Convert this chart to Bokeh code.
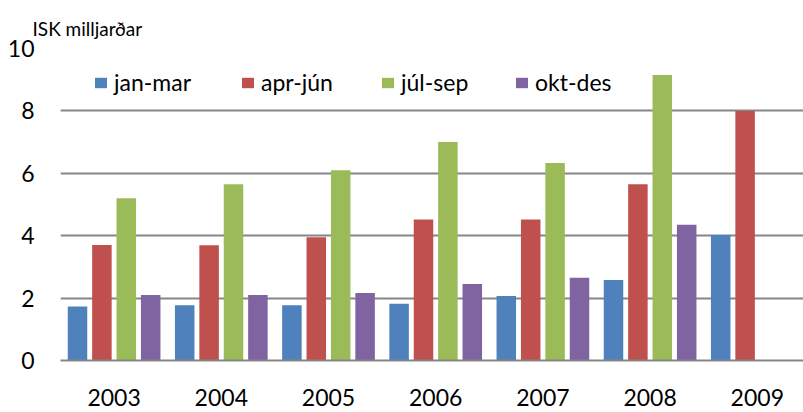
from bokeh.plotting import figure
from bokeh.models import Range1d, FixedTicker, ColumnDataSource, Legend, LegendItem
from bokeh.embed import file_html
from bokeh.resources import INLINE
import numpy as np

years = ["2003", "2004", "2005", "2006", "2007", "2008", "2009"]
series_names = ["jan-mar", "apr-jún", "júl-sep", "okt-des"]
jan_mar = [1.73, 1.77, 1.77, 1.82, 2.07, 2.58, 4.02]
apr_jun = [3.70, 3.69, 3.95, 4.52, 4.52, 5.65, 8.00]
jul_sep = [5.20, 5.65, 6.10, 7.00, 6.33, 9.15, None]
okt_des = [2.10, 2.10, 2.16, 2.45, 2.65, 4.35, None]
colors = ["#4F81BD", "#C0504D", "#9BBB59", "#8064A2"]
y_ticks = [0, 2, 4, 6, 8, 10]
unit_label = "ISK milljarðar"

FONT = "Lato"

p = figure(width=803, height=412, output_backend="svg", toolbar_location=None,
           x_range=Range1d(0, 743 / 107.2), y_range=Range1d(0, 10),
           min_border_left=60, min_border_right=0, min_border_top=48, min_border_bottom=52)
p.outline_line_color = None
p.background_fill_color = "white"
p.border_fill_color = "white"

p.title.text = unit_label
p.title.align = "left"
p.title.offset = -28
p.title.standoff = 17
p.title.text_font = FONT
p.title.text_font_size = "19px"
p.title.text_font_style = "normal"
p.title.text_color = "#000000"

pitch = 0.2276
bw = 0.182
offsets = [-1.5 * pitch, -0.5 * pitch, 0.5 * pitch, 1.5 * pitch]
legend_x = [33, 180, 320, 454]
idx = np.arange(len(years)) + 0.5
for name, vals, col, off, lx in zip(series_names, [jan_mar, apr_jun, jul_sep, okt_des],
                                    colors, offsets, legend_x):
    tops = np.array([np.nan if v is None else v for v in vals], dtype=float)
    src = ColumnDataSource(dict(x=idx + off, top=tops))
    r = p.vbar(x="x", top="top", width=bw, source=src, fill_color=col, line_color=None)
    leg = Legend(items=[LegendItem(label=name, renderers=[r])], orientation="horizontal",
                 location=(lx, 264), glyph_width=15, glyph_height=13, label_standoff=6,
                 padding=0, margin=0, background_fill_alpha=0, border_line_alpha=0,
                 label_text_font=FONT, label_text_font_size="23px", label_text_color="#000000")
    p.add_layout(leg, "center")

# y axis
p.yaxis.ticker = FixedTicker(ticks=y_ticks)
p.yaxis.axis_line_color = None
p.yaxis.major_tick_line_color = None
p.yaxis.major_tick_out = 0
p.yaxis.major_tick_in = 0
p.yaxis.minor_tick_line_color = None
p.yaxis.major_label_standoff = 26
p.yaxis.major_label_text_font = FONT
p.yaxis.major_label_text_font_size = "23px"
p.yaxis.major_label_text_color = "#000000"

# x axis
p.xaxis.ticker = FixedTicker(ticks=list(idx))
p.xaxis.major_label_overrides = {float(i): y for i, y in zip(idx, years)}
p.xaxis.axis_line_color = "#868686"
p.xaxis.axis_line_width = 2
p.xaxis.major_tick_line_color = None
p.xaxis.major_tick_out = 0
p.xaxis.major_tick_in = 0
p.xaxis.minor_tick_line_color = None
p.xaxis.major_label_standoff = 28
p.xaxis.major_label_text_font = FONT
p.xaxis.major_label_text_font_size = "23px"
p.xaxis.major_label_text_color = "#000000"

p.xgrid.grid_line_color = None
p.ygrid.ticker = FixedTicker(ticks=y_ticks)
p.ygrid.grid_line_color = "#868686"
p.ygrid.grid_line_width = 2

open("out.html", "w").write(file_html(p, INLINE))
